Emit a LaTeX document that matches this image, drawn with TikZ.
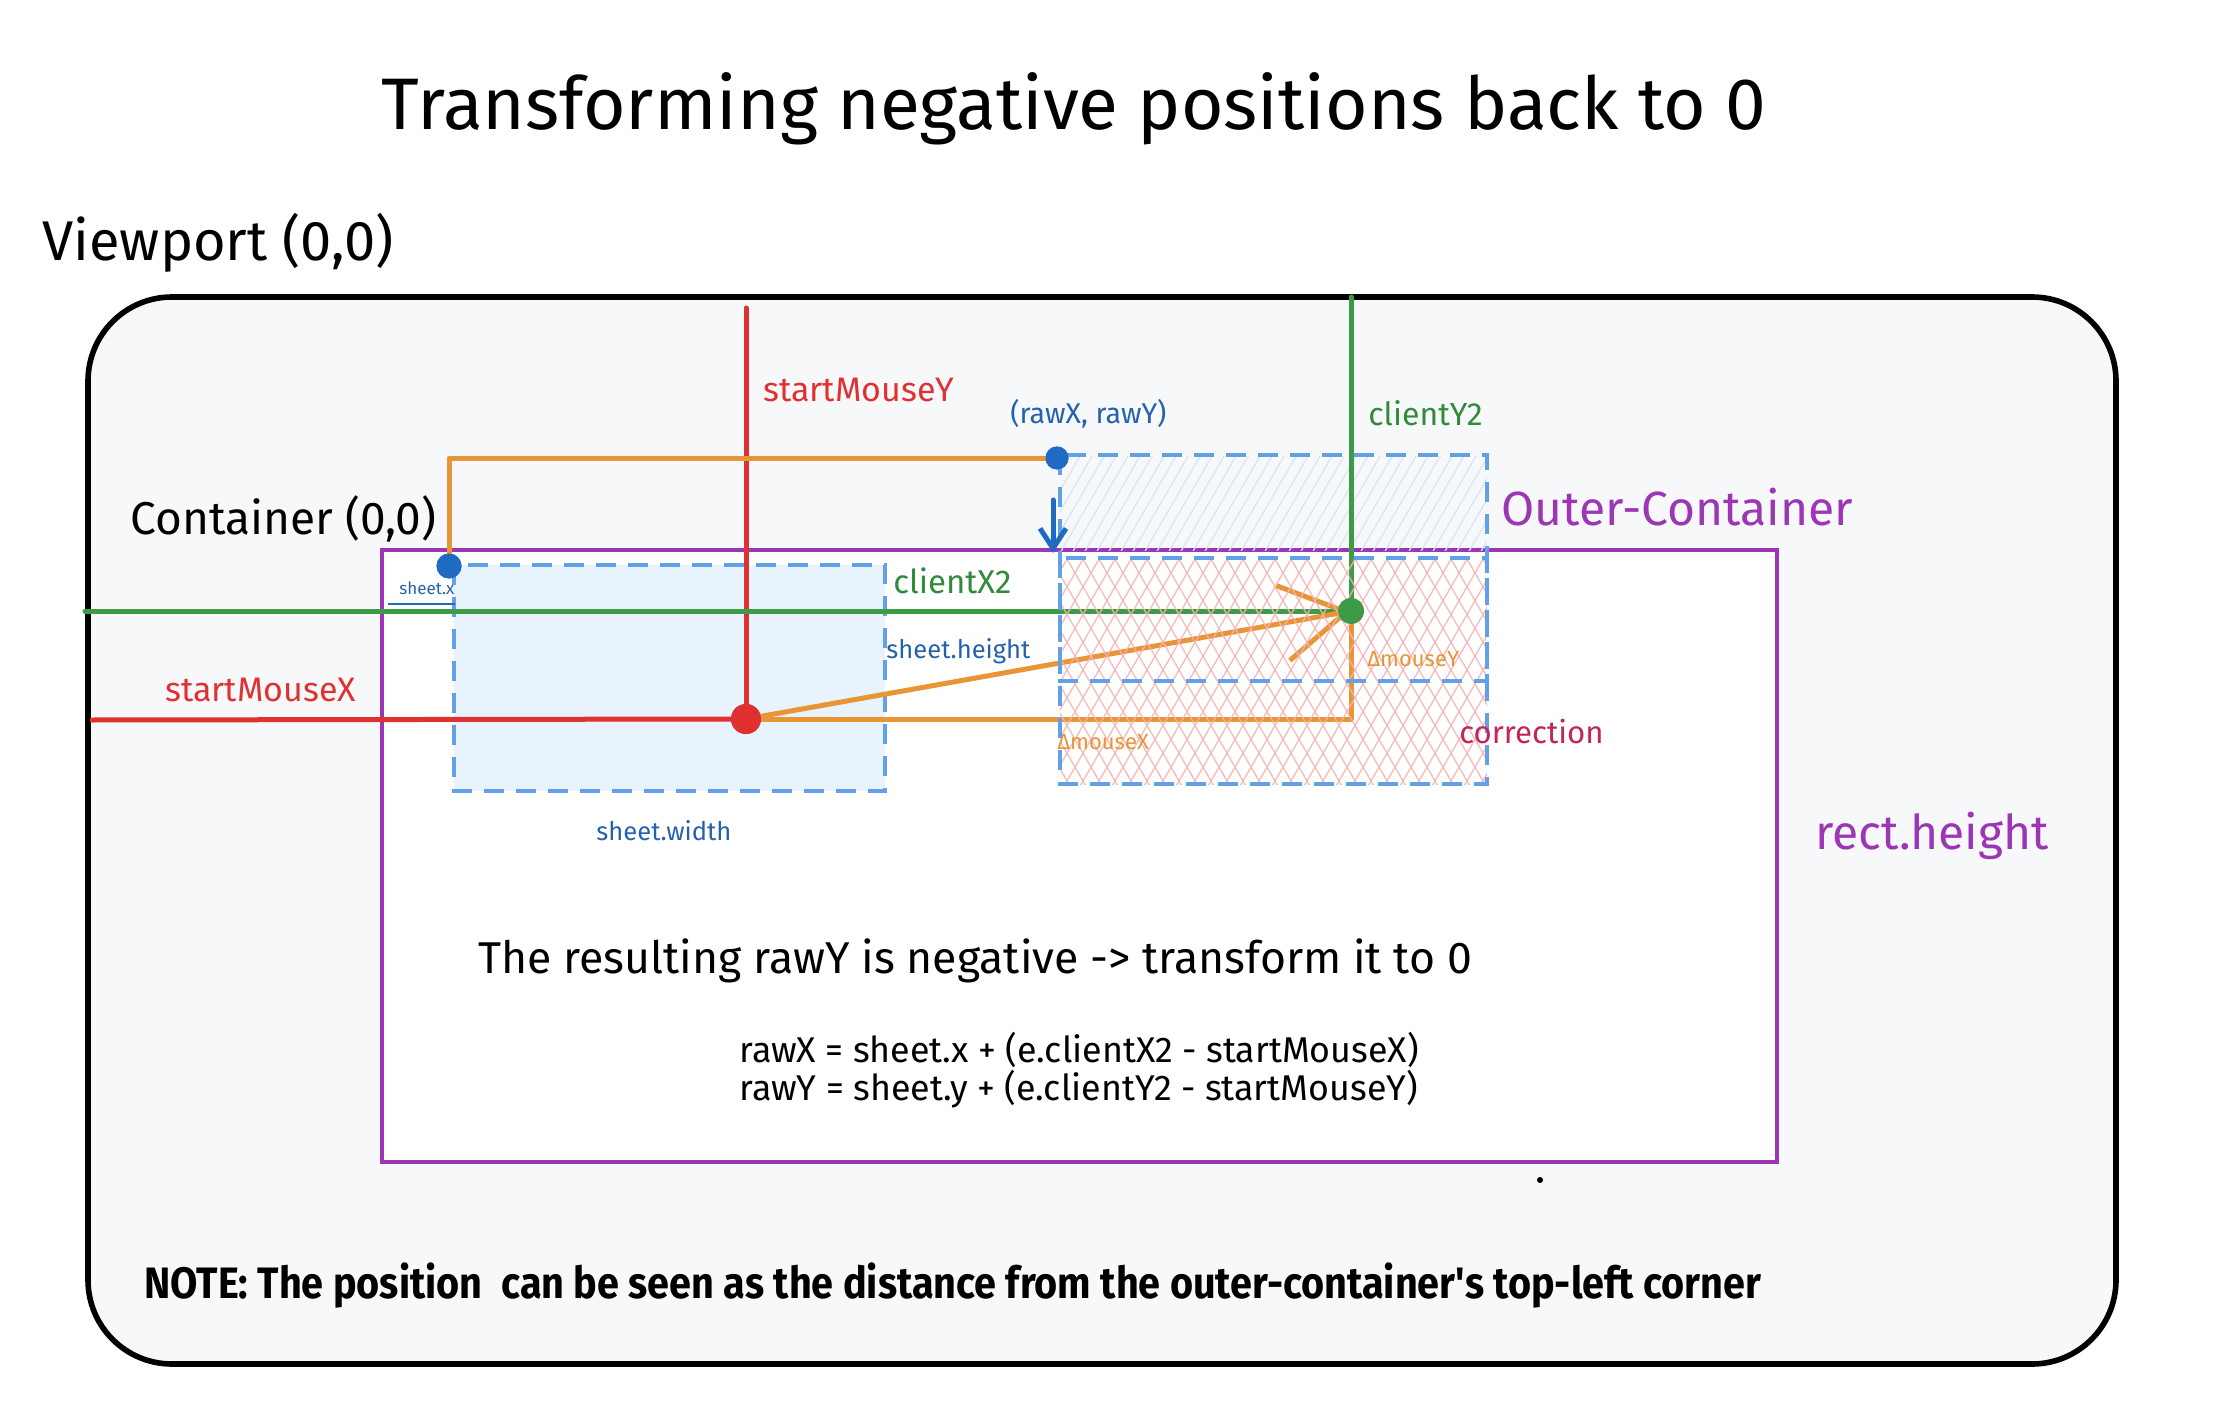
\documentclass[tikz,border=0pt]{standalone}
\usepackage{fontspec}
\setmainfont{Fira Sans}
\usetikzlibrary{arrows.meta}
\definecolor{cred}{HTML}{E03131}
\definecolor{cblue}{HTML}{1F6BC4}
\definecolor{cdash}{HTML}{64A0E6}
\definecolor{cgreen}{HTML}{3D9A46}
\definecolor{cgreentext}{HTML}{338A3C}
\definecolor{corange}{HTML}{E89536}
\definecolor{cpurple}{HTML}{9C36B5}
\definecolor{ccrimson}{HTML}{C2255C}
\definecolor{clabel}{HTML}{2462AE}
\definecolor{cbg}{HTML}{F7F8FA}
\definecolor{csheet}{HTML}{E8F3FD}
\definecolor{chatch}{HTML}{F5B3B3}
\definecolor{clighthatch}{HTML}{D6E5F5}
\tikzset{
  dot/.style={circle, fill=#1, inner sep=0pt, minimum size=12pt},
  redline/.style={cred, line width=2.5pt, line cap=round},
  greenline/.style={cgreen, line width=2.5pt, line cap=round},
  orangeline/.style={corange, line width=2.5pt, line cap=round, line join=round},
  dashbox/.style={cdash, line width=1.8pt, dash pattern=on 10pt off 6pt},
  lbl/.style={inner sep=0pt, anchor=west},
}
\newcommand{\fsz}[1]{\fontsize{#1}{#1}\selectfont}
\begin{document}
\begin{tikzpicture}[x=0.5pt,y=-0.5pt]
\useasboundingbox (0,0) rectangle (2216,1428);
\fill[white] (0,0) rectangle (2216,1428);

% viewport frame
\draw[line width=2.8pt, fill=cbg, rounded corners=42pt] (88,297) rectangle (2116,1364);
% container
\draw[cpurple, line width=2pt, fill=white] (382,550) rectangle (1777,1162);

% sheet
\fill[csheet] (454,565) rectangle (885,791);
\draw[dashbox] (454,565) rectangle (885,791);

% faint hatch of raw position above container
\begin{scope}
\clip (1060,455) rectangle (1487,550);
\foreach \i in {900,912,...,1500} {\draw[clighthatch, line width=0.6pt] (\i,560) -- ++(60,-104);}
\end{scope}

% dots (nodes)
\node[dot=cred, minimum size=15pt] (sm) at (746,719) {};
\node[dot=cblue, minimum size=12.5pt] (sx) at (449,566) {};
\node[dot=cblue, minimum size=11.5pt] (raw) at (1057,458) {};
\node[dot=cgreen, minimum size=13pt] (gd) at (1351,611) {};

\coordinate (ry) at (746,308);
\coordinate (rx) at (92,720);
\coordinate (gx) at (85,611);
\coordinate (gy) at (1351,297);

% red lines
\draw[redline] (ry) -- (sm.center);
\draw[redline] (rx) -- (sm.center);
% green lines
\draw[greenline] (gx) -- (gd.center);
\draw[greenline] (gy) -- (gd.center);
% orange lines
\draw[orangeline] (sx.center) |- (raw.center);
\draw[orangeline] (sm.center) -| (gd.center);
\draw[orangeline, -{Straight Barb[length=32pt, width=38pt, line width=2.5pt]}] (sm.center) -- (gd.center);

% red crosshatch of corrected position
\begin{scope}
\clip (1060,558) rectangle (1487,784);
\foreach \i in {800,816,...,1560} {
  \draw[chatch, line width=0.7pt, opacity=0.85] (\i,800) -- ++(150,-260);
  \draw[chatch, line width=0.7pt, opacity=0.85] (\i,540) -- ++(150,260);
}
\end{scope}

% dashed outlines
\draw[dashbox] (1060,455) rectangle (1487,681);
\draw[dashbox] (1060,558) rectangle (1487,784);

% redraw dots on top
\node[dot=cred, minimum size=15pt] at (sm) {};
\node[dot=cblue, minimum size=12.5pt] at (sx) {};
\node[dot=cblue, minimum size=11.5pt] at (raw) {};
\node[dot=cgreen, minimum size=13pt] at (gd) {};

% correction arrow
\coordinate (ca) at (1053,500);
\coordinate (cb) at (1053,553);
\draw[cblue, line width=2.5pt, line cap=round, -{Straight Barb[length=10pt, width=13pt, line width=2.5pt]}] (ca) -- (cb);

% sheet.x underline
\coordinate (ua) at (388,604);
\coordinate (ub) at (455,604);
\draw[cblue, line width=0.8pt] (ua) -- (ub);

% small dot
\node[dot=black, minimum size=3pt] (sd) at (1540,1180) {};

% texts
\node[inner sep=0pt] (title) at (1074,109) {\fsz{36.5}Transforming negative positions back to 0};
\node[lbl] (vp) at (42,243) {\fsz{28}Viewport (0,0)};
\node[lbl] (cont) at (130,519) {\fsz{23}Container (0,0)};
\node[lbl, text=cred] (smy) at (763,390) {\fsz{17}startMouseY};
\node[lbl, text=cred] (smx) at (165,690) {\fsz{17}startMouseX};
\node[lbl, text=clabel] (rawl) at (1010,414) {\fsz{14.3}(rawX, rawY)};
\node[lbl, text=cgreentext] (cy2) at (1368,413) {\fsz{16}clientY2};
\node[lbl, text=cgreentext] (cx2) at (893,581) {\fsz{16.5}clientX2};
\node[lbl, text=cpurple] (oc) at (1501,507) {\fsz{24}Outer-Container};
\node[lbl, text=clabel] (sh) at (886,651) {\fsz{12.8}sheet.height};
\node[lbl, text=clabel] (sw) at (596,831) {\fsz{12.8}sheet.width};
\node[lbl, text=clabel] (sxl) at (399,588) {\fsz{8.5}sheet.x};
\node[lbl, text=corange] (dmy) at (1367,659) {\fsz{11}ΔmouseY};
\node[lbl, text=corange] (dmx) at (1057,742) {\fsz{11}ΔmouseX};
\node[lbl, text=ccrimson] (corr) at (1459,732) {\fsz{15.6}correction};
\node[lbl, text=cpurple] (rh) at (1815,836) {\fsz{24}rect.height};
\node[lbl] (res) at (478,961) {\fsz{22.3}The resulting rawY is negative -> transform it to 0};
\node[lbl] (f1) at (739,1050) {\fsz{17.9}rawX = sheet.x + (e.clientX2 - startMouseX)};
\node[lbl] (f2) at (739,1089) {\fsz{17.9}rawY = sheet.y + (e.clientY2 - startMouseY)};
\node[lbl] (note) at (144,1286) {\scalebox{0.9}[1]{\fsz{22}\bfseries NOTE: The position\ \ can be seen as the distance from the outer-container\textquotesingle s top-left corner}};
\end{tikzpicture}
\end{document}
